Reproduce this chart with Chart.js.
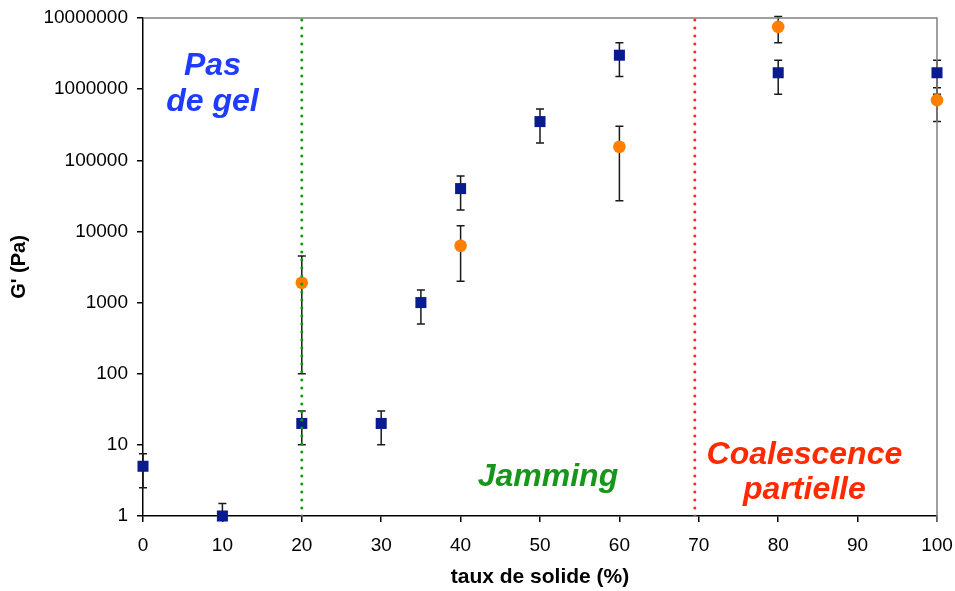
<!DOCTYPE html>
<html>
<head>
<meta charset="utf-8">
<script src="https://cdn.jsdelivr.net/npm/chart.js@4/dist/chart.umd.min.js"></script>
<style>
  html, body { margin: 0; padding: 0; background: #fff; }
  #wrap { width: 955px; height: 591px; }
</style>
</head>
<body>
<div id="wrap"><canvas id="gChart" width="955" height="591"></canvas></div>
<script>
// blue squares
const xBlue = [0, 10, 20, 30, 35, 40, 50, 60, 80, 100];
const gBlue = [5, 1, 20, 20, 1000, 40000, 350000, 3000000, 1700000, 1700000];
const errBlue = [2.5, 0.5, 10, 10, 500, 20000, 175000, 1500000, 850000, 850000];

// orange circles (asymmetric error bars)
const xOrange = [20, 40, 60, 80, 100];
const gOrange = [1900, 6300, 155000, 7500000, 700000];
const errOrangeUp = [2600, 5700, 145000, 3000000, 350000];
const errOrangeDown = [1800, 4300, 128000, 3000000, 350000];

// regime boundaries
const limits = [20, 69.5];

const xTicks = [0, 10, 20, 30, 40, 50, 60, 70, 80, 90, 100];
const yTicks = [1, 10, 100, 1000, 10000, 100000, 1000000, 10000000];

const zoneLabels = [
    { lines: ["Pas", "de gel"], x: 8.75, y: [2100000, 650000], color: "#1e3cff" },
    { lines: ["Jamming"], x: 51, y: [3.5], color: "#18961b" },
    { lines: ["Coalescence", "partielle"], x: 83.3, y: [7.2, 2.3], color: "#ff2a00" }
];

function points(xs, ys) {
    return xs.map((x, i) => ({ x: x, y: ys[i] }));
}

const errorBars = {
    id: "errorBars",
    beforeDatasetsDraw(chart) {
        const ctx = chart.ctx;
        const xs = chart.scales.x, ys = chart.scales.y;
        const area = chart.chartArea;
        const sets = [
            [xBlue, gBlue, errBlue, errBlue],
            [xOrange, gOrange, errOrangeUp, errOrangeDown]
        ];
        ctx.save();
        ctx.beginPath();
        ctx.rect(area.left - 10, area.top - 3, area.right - area.left + 20, area.bottom - area.top + 3);
        ctx.clip();
        ctx.strokeStyle = "#1a1a1a";
        ctx.lineWidth = 1.5;
        sets.forEach(s => {
            s[0].forEach((x, i) => {
                const px = xs.getPixelForValue(x);
                const hi = ys.getPixelForValue(s[1][i] + s[2][i]);
                const lo = ys.getPixelForValue(Math.max(s[1][i] - s[3][i], 0.01));
                ctx.beginPath();
                ctx.moveTo(px, hi);
                ctx.lineTo(px, lo);
                ctx.moveTo(px - 4, hi);
                ctx.lineTo(px + 4, hi);
                ctx.moveTo(px - 4, lo);
                ctx.lineTo(px + 4, lo);
                ctx.stroke();
            });
        });
        ctx.restore();
    }
};

const frameAndText = {
    id: "frameAndText",
    beforeDatasetsDraw(chart) {
        const ctx = chart.ctx;
        const a = chart.chartArea;
        ctx.save();
        ctx.strokeStyle = "#808080";
        ctx.lineWidth = 1.5;
        ctx.beginPath();
        ctx.moveTo(a.left, a.top);
        ctx.lineTo(a.right, a.top);
        ctx.lineTo(a.right, a.bottom + 6);
        ctx.stroke();
        ctx.restore();
    },
    afterDraw(chart) {
        const ctx = chart.ctx;
        const xs = chart.scales.x, ys = chart.scales.y;
        ctx.save();
        ctx.font = "italic bold 32px 'Liberation Sans', Arial, sans-serif";
        ctx.textAlign = "center";
        ctx.textBaseline = "middle";
        zoneLabels.forEach(z => {
            ctx.fillStyle = z.color;
            z.lines.forEach((t, i) => {
                ctx.fillText(t, xs.getPixelForValue(z.x), ys.getPixelForValue(z.y[i]));
            });
        });
        ctx.restore();
    }
};

const ctx = document.getElementById("gChart").getContext("2d");

const chart = new Chart(ctx, {
    type: "scatter",
    data: {
        datasets: [
            {
                type: "line",
                data: [{ x: limits[0], y: 1 }, { x: limits[0], y: 10000000 }],
                borderColor: "#0a9a0a",
                borderWidth: 3,
                borderDash: [0, 8],
                borderCapStyle: "round",
                pointRadius: 0,
                order: 0
            },
            {
                type: "line",
                data: [{ x: limits[1], y: 1 }, { x: limits[1], y: 10000000 }],
                borderColor: "#ff2a10",
                borderWidth: 3,
                borderDash: [0, 8],
                borderCapStyle: "round",
                pointRadius: 0,
                order: 0
            },
            {
                data: points(xBlue, gBlue),
                pointStyle: "rect",
                pointRadius: 7.8,
                backgroundColor: "#0a1a8f",
                borderColor: "#0a1a8f",
                borderWidth: 0,
                clip: false,
                order: 1
            },
            {
                data: points(xOrange, gOrange),
                pointStyle: "circle",
                pointRadius: 6.3,
                backgroundColor: "#ff8000",
                borderColor: "#ff8000",
                borderWidth: 0,
                clip: false,
                order: 2
            }
        ]
    },
    options: {
        responsive: false,
        animation: false,
        layout: { padding: { top: 18, right: 18, left: 0, bottom: 0 } },
        plugins: {
            legend: { display: false },
            tooltip: { enabled: false }
        },
        scales: {
            x: {
                type: "linear",
                min: 0,
                max: 100,
                afterFit: s => {
                    s.height = 75;
                    s.paddingLeft = 0;
                    s.paddingRight = 0;
                },
                afterBuildTicks: s => { s.ticks = xTicks.map(v => ({ value: v })); },
                grid: { drawOnChartArea: false, drawTicks: true, tickLength: 6, color: "#000", lineWidth: 1.5 },
                border: { color: "#000", width: 1.5 },
                ticks: {
                    color: "#000",
                    padding: 12,
                    maxRotation: 0,
                    font: { family: "'Liberation Sans', Arial, sans-serif", size: 19 }
                },
                title: {
                    display: true,
                    text: "taux de solide (%)",
                    color: "#000",
                    padding: { top: 0, bottom: 1 },
                    font: { family: "'Liberation Sans', Arial, sans-serif", size: 21, weight: "bold" }
                }
            },
            y: {
                type: "logarithmic",
                min: 1,
                max: 10000000,
                afterFit: s => {
                    s.width = 143;
                    s.paddingTop = 0;
                    s.paddingBottom = 0;
                },
                afterBuildTicks: s => { s.ticks = yTicks.map(v => ({ value: v })); },
                grid: { drawOnChartArea: false, drawTicks: true, tickLength: 6, color: "#000", lineWidth: 1.5 },
                border: { color: "#000", width: 1.5 },
                ticks: {
                    color: "#000",
                    padding: 9,
                    callback: v => String(v),
                    font: { family: "'Liberation Sans', Arial, sans-serif", size: 19 }
                },
                title: {
                    display: true,
                    text: "G' (Pa)",
                    color: "#000",
                    padding: { top: 7, bottom: 0 },
                    font: { family: "'Liberation Sans', Arial, sans-serif", size: 20, weight: "bold" }
                }
            }
        }
    },
    plugins: [errorBars, frameAndText]
});
</script>
</body>
</html>
